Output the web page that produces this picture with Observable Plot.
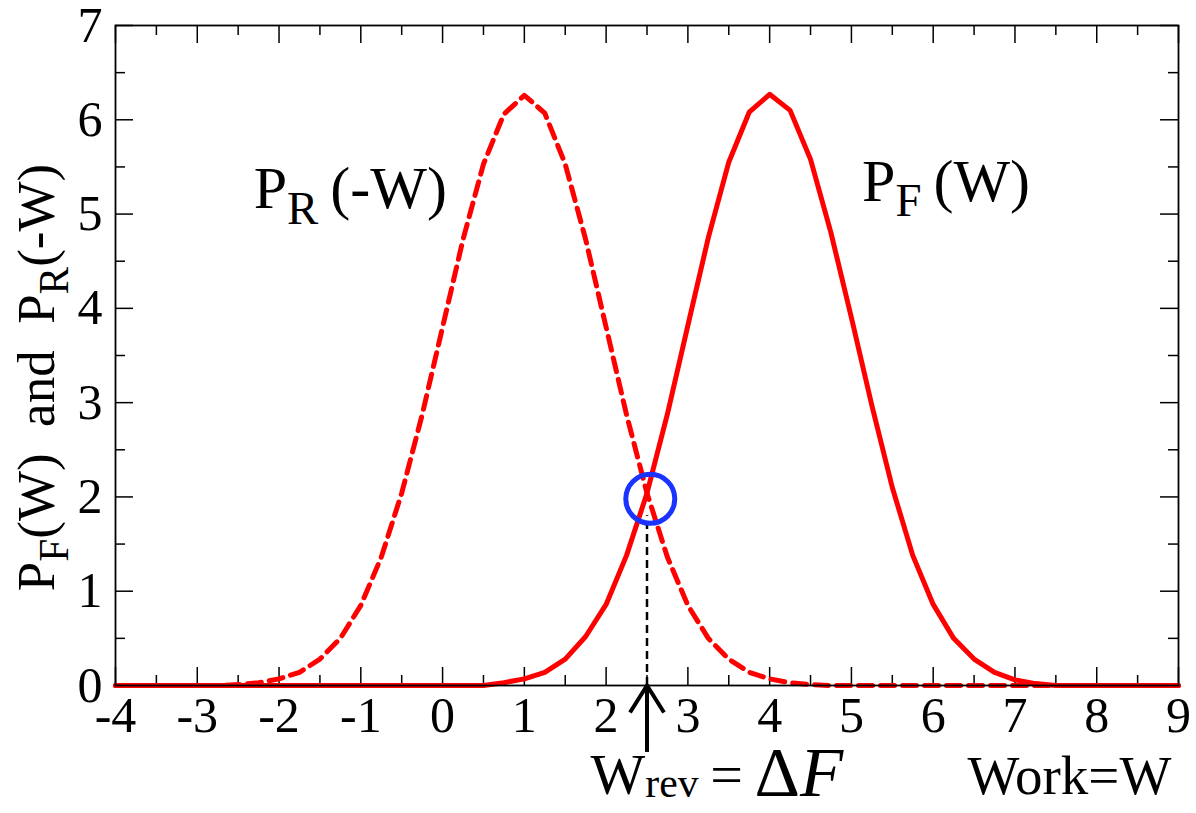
<!DOCTYPE html>
<html>
<head>
<meta charset="utf-8">
<script src="https://cdn.jsdelivr.net/npm/d3@7"></script>
<script src="https://cdn.jsdelivr.net/npm/@observablehq/plot@0.6"></script>
<style>
  html, body { margin: 0; padding: 0; background: #fff; }
  #chart svg { display: block; }
  #chart svg text { font-family: "Liberation Serif", "Times New Roman", serif; }
</style>
</head>
<body>
<div id="chart"></div>
<script>
// ---- data ----
const xMajorTicks = [-4, -3, -2, -1, 0, 1, 2, 3, 4, 5, 6, 7, 8, 9];
const xMinorTicks = [-3.5, -2.5, -1.5, -0.5, 0.5, 1.5, 2.5, 3.5, 4.5, 5.5, 6.5, 7.5, 8.5];
const yMajorTicks = [0, 1, 2, 3, 4, 5, 6, 7];
const yMinorTicks = [0.5, 1.5, 2.5, 3.5, 4.5, 5.5, 6.5];

// forward work distribution P_F(W)
const wF = [-4, 0.5, 0.75, 1.0, 1.25, 1.5, 1.75, 2.0, 2.25, 2.5, 2.75, 3.0, 3.25, 3.5, 3.75, 4.0,
            4.25, 4.5, 4.75, 5.0, 5.25, 5.5, 5.75, 6.0, 6.25, 6.5, 6.75, 7.0, 7.25, 7.5, 9];
const pF = [0, 0, 0.03, 0.07, 0.14, 0.28, 0.52, 0.86, 1.38, 2.04, 2.88, 3.82, 4.75, 5.55, 6.08, 6.27,
            6.10, 5.58, 4.80, 3.90, 2.97, 2.10, 1.38, 0.86, 0.50, 0.28, 0.14, 0.06, 0.02, 0, 0];

// reverse work distribution P_R(-W)
const wR = [-4, -2.75, -2.5, -2.25, -2.0, -1.75, -1.5, -1.25, -1.0, -0.75, -0.5, -0.25, 0, 0.25, 0.5, 0.75,
            1.0, 1.25, 1.5, 1.75, 2.0, 2.25, 2.5, 2.75, 3.0, 3.25, 3.5, 3.75, 4.0, 4.25, 4.5, 4.75, 9];
const pR = [0, 0, 0.01, 0.03, 0.07, 0.14, 0.28, 0.50, 0.85, 1.36, 2.04, 2.87, 3.80, 4.73, 5.53, 6.06,
            6.26, 6.07, 5.53, 4.73, 3.80, 2.87, 2.04, 1.36, 0.85, 0.50, 0.28, 0.14, 0.07, 0.03, 0.01, 0, 0];

const wRev = [2.5];            // W_rev = ΔF
const crossing = [{w: 2.54, p: 1.98}];
const dropTop = 1.8;           // top of dashed drop line
const arrowBase = -0.71;       // bottom of the arrow shaft

const curveLabels = [
  {w: -2.31, p: 5.06, text: "P_R(-W)"},
  {w: 5.13, p: 5.14, text: "P_F(W)"}
];
const bottomLabels = [
  {w: 1.81, p: -1.15, text: "W_rev=ΔF"},
  {w: 6.42, p: -1.15, text: "Work=W"}
];
const yTitle = "P_F(W)  and  P_R(-W)";

// ---- layout ----
const W = 1196, H = 813;
const mL = 115, mR = 18, mT = 25, mB = 128;
const innerW = W - mL - mR, innerH = H - mT - mB;
const majorLen = 18, minorLen = 10;
const font = "Liberation Serif";

const chevron = {
  draw(ctx) {
    ctx.moveTo(-17, 27);
    ctx.lineTo(0, 0);
    ctx.lineTo(17, 27);
  }
};

const chart = Plot.plot({
  width: W, height: H,
  marginLeft: mL, marginRight: mR, marginTop: mT, marginBottom: mB,
  x: {domain: [-4, 9]},
  y: {domain: [0, 7]},
  style: {fontFamily: font, fontSize: "50px", background: "white", color: "black", overflow: "visible"},
  marks: [
    Plot.axisX(xMajorTicks, {tickSize: 0, tickPadding: 11, tickFormat: d => String(d), fontSize: 50, label: null}),
    Plot.axisY(yMajorTicks, {tickSize: 0, tickPadding: 13, tickFormat: d => String(d), fontSize: 50, label: null}),
    // inward ticks on all four sides
    Plot.tickX(xMajorTicks, {x: d => d, insetTop: innerH - majorLen, stroke: "black", strokeWidth: 1.5}),
    Plot.tickX(xMajorTicks, {x: d => d, insetBottom: innerH - majorLen, stroke: "black", strokeWidth: 1.5}),
    Plot.tickX(xMinorTicks, {x: d => d, insetTop: innerH - minorLen, stroke: "black", strokeWidth: 1.5}),
    Plot.tickX(xMinorTicks, {x: d => d, insetBottom: innerH - minorLen, stroke: "black", strokeWidth: 1.5}),
    Plot.tickY(yMajorTicks, {y: d => d, insetRight: innerW - majorLen, stroke: "black", strokeWidth: 1.5}),
    Plot.tickY(yMajorTicks, {y: d => d, insetLeft: innerW - majorLen, stroke: "black", strokeWidth: 1.5}),
    Plot.tickY(yMinorTicks, {y: d => d, insetRight: innerW - minorLen, stroke: "black", strokeWidth: 1.5}),
    Plot.tickY(yMinorTicks, {y: d => d, insetLeft: innerW - minorLen, stroke: "black", strokeWidth: 1.5}),
    // curves
    Plot.line(pR, {x: wR, y: pR, stroke: "#f00", strokeWidth: 5, strokeDasharray: "14,8", strokeLinejoin: "round"}),
    Plot.line(pF, {x: wF, y: pF, stroke: "#f00", strokeWidth: 5, strokeLinejoin: "round"}),
    Plot.frame({stroke: "black", strokeWidth: 1.8}),
    // W_rev marker
    Plot.ruleX(wRev, {x: d => d, y1: 0, y2: dropTop, stroke: "black", strokeWidth: 2.5, strokeDasharray: "8,5"}),
    Plot.ruleX(wRev, {x: d => d, y1: arrowBase, y2: 0, stroke: "black", strokeWidth: 4}),
    Plot.dot(wRev, {x: d => d, y: 0, symbol: chevron, r: 10, stroke: "black", fill: "none", strokeWidth: 4, strokeLinejoin: "miter"}),
    Plot.dot(crossing, {x: "w", y: "p", r: 24.5, stroke: "#1a33ff", fill: "none", strokeWidth: 5}),
    // labels
    Plot.text(curveLabels, {x: "w", y: "p", text: "text", textAnchor: "start", lineAnchor: "bottom", fontSize: 60, fill: "black"}),
    Plot.text(bottomLabels, {x: "w", y: "p", text: "text", textAnchor: "start", lineAnchor: "bottom", fontSize: 56, fill: "black"}),
    Plot.text([yTitle], {frameAnchor: "left", dx: -78, dy: 22, rotate: -90, textAnchor: "middle", fontSize: 53, fill: "black"})
  ]
});

document.getElementById("chart").appendChild(chart);

// ---- rich text (subscripts) ----
const rich = {
  "P_R(-W)": {base: 60, segs: [["P"], ["R", "sub"], ["\u2009(-W)"]]},
  "P_F(W)": {base: 60, segs: [["P"], ["F", "sub"], ["\u2009(W)"]]},
  "Work=W": {base: 55, segs: [["Work=W"]]},
  "W_rev=ΔF": {base: 58, segs: [["W"], ["rev", "sub2"], ["\u2009=\u2009"], ["Δ", "big"], ["F", "bigit"]]},
  "P_F(W)  and  P_R(-W)": {base: 53, segs: [["P"], ["F", "sub"], ["(W)\u00a0\u00a0and\u00a0\u00a0P"], ["R", "sub"], ["(-W)"]]}
};
const NS = "http://www.w3.org/2000/svg";
chart.querySelectorAll("text").forEach(t => {
  t.setAttribute("font-family", font);
  const spec = rich[t.textContent];
  if (!spec) return;
  const b = spec.base;
  t.textContent = "";
  t.setAttribute("font-size", b);
  let shift = 0;
  for (const [str, kind] of spec.segs) {
    const ts = document.createElementNS(NS, "tspan");
    ts.textContent = str;
    let target = 0, size = b, italic = false;
    if (kind === "sub") { target = 0.26 * b; size = 0.78 * b; }
    if (kind === "sub2") { target = 0.06 * b; size = 0.72 * b; }
    if (kind === "big") { target = 0.04 * b; size = 1.22 * b; }
    if (kind === "bigit") { target = 0.04 * b; size = 1.22 * b; italic = true; }
    ts.setAttribute("font-size", size);
    if (italic) ts.setAttribute("font-style", "italic");
    if (target !== shift) { ts.setAttribute("dy", target - shift); shift = target; }
    t.appendChild(ts);
  }
});
</script>
</body>
</html>
